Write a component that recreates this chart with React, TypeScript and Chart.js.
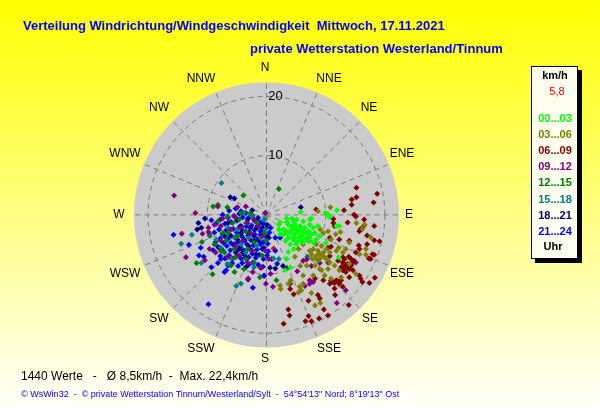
import React, { useEffect, useRef } from "react";
import { Chart, registerables } from "chart.js";

Chart.register(...registerables);

// Every point is [east, north] in km/h: the wind vector.
const hours00to03 = [[5.8,0.5],[11.9,0.8],[10,0.3],[10.4,0],[10.7,-0.4],[2.3,-1.3],[2.1,-1.7],[3.4,-0.6],[4.3,-0.6],[4.6,-1.1],[5.1,-0.8],[6.2,-1.1],[7.6,-0.6],[7.3,-0.8],[3.7,-1.7],[4.3,-1.9],[4.8,-1.7],[5.7,-1.9],[6.5,-2.2],[7.3,-1.7],[7.9,-2.2],[8.7,-1.9],[2.9,-2.5],[3.4,-2.8],[4,-3.1],[4.6,-2.5],[5.4,-2.8],[6.2,-3.1],[7.1,-2.8],[8.2,-3.1],[9,-3.6],[2.9,-3.3],[3.7,-3.9],[4.6,-3.6],[5.4,-3.9],[6.2,-3.9],[7.3,-3.9],[8.4,-4.2],[11.8,-1.9],[12.3,-1.9],[2.1,-2.5],[2.3,-3.3],[3.2,-4.4],[4,-5],[5.1,-5],[6.2,-4.7],[4.6,-5.8],[3.7,-6.3],[3.4,-7.5],[3.2,-9.4],[4,-8.9],[10,-4.8],[12.2,-7.2],[7.9,-4.7],[7.3,-4.4],[5.7,-4.4],[4.8,-4.4],[6.8,-3.3],[5,-2.2],[5.9,-2.4],[6.6,-2.9],[7.6,-3.3],[4.2,-2.4],[3.2,-3],[4.9,-3.2],[5.8,-3.5],[6.8,-4.1],[3.5,-1.2],[4.5,-4.1]];

const hours03to06 = [[10.8,1.3],[8.7,0.6],[16.6,-1.7],[15.2,-1.4],[16.2,-2.4],[10.4,-2.8],[9.1,-2.5],[9.6,-3.1],[12.5,-2.9],[11.7,-3.3],[10.9,-4.2],[17.6,-3.8],[14,-4.7],[12.2,-5.6],[16.8,-5.8],[16.8,-6.8],[15.7,-6.7],[13.4,-5.8],[12.9,-6.4],[11.8,-6.1],[10.1,-5.8],[9.3,-5.3],[8.4,-5],[7.9,-5.8],[7.6,-6.7],[8.4,-7],[9,-7.5],[9.8,-7.2],[10.7,-8.1],[11.5,-8.6],[10.4,-9.2],[9.3,-9.4],[8.2,-8.6],[6.8,-8.6],[5.7,-8.7],[6.2,-10.3],[7.9,-10.3],[9,-9.2],[9.8,-10.3],[10.9,-10.8],[12.6,-10.6],[15.1,-10],[6.2,-11.7],[5.6,-12.2],[5.9,-12.8],[5.4,-13.2],[2.3,-12],[2.4,-12.6],[4.1,-11.1],[3.7,-11.7],[7.6,-13.3],[8.2,-15.4],[9.1,-15],[4.8,-7.1],[5.4,-5.8],[6.2,-5],[7.1,-4.4],[7.3,-6.1],[8.7,-6.1],[9.6,-6.4],[10.7,-6.4],[12.3,-9.4],[14,-8.3],[8.2,-7.4],[8.7,-7.8],[9.4,-6.9],[8.9,-6.6],[10.2,-7.6],[7.7,-7.4]];

const hours06to09 = [[15.2,4.6],[18.7,3.6],[14.4,2.6],[15.2,3],[18.1,2.1],[14.4,1.7],[8.4,0.9],[13.1,0.8],[14.8,0],[15.1,-0.3],[11.3,-0.7],[11.3,-1.4],[13.7,-1.3],[16.5,-0.8],[18.2,-1.9],[15.9,-2.4],[16.5,-1.8],[15.7,-2.8],[11.5,-1.9],[10.7,-3.9],[17,-3.5],[18.2,-4.3],[19.1,-4.5],[17,-5],[15.6,-5.2],[15.7,-5.8],[14,-4.4],[12.3,-4.2],[10.9,-5.4],[10.4,-5.6],[17.9,-6.7],[18.2,-6.8],[17.6,-7.5],[17.3,-7.4],[15.1,-6.4],[13.9,-7.1],[13.2,-7.5],[12.9,-8.1],[13.7,-8.3],[14.3,-8.6],[12.6,-8.9],[13.2,-9.1],[14,-9.2],[12.9,-9.4],[13.4,-9.7],[14.6,-9.4],[15.7,-10.3],[15.9,-10.8],[16.2,-11.4],[18.3,-10.7],[17.4,-11.6],[14,-10.6],[12.6,-11.1],[11.8,-11.1],[11.2,-11.4],[10.7,-11.7],[12.3,-11.7],[11.5,-12.5],[12.9,-12.2],[11.6,-13.6],[8.7,-13.6],[9,-14.2],[7.1,-14.6],[13.9,-15.3],[9.7,-16.1],[10.4,-17.1],[7.1,-17.2],[7.6,-18.1],[6.6,-18.1],[8.9,-17.6],[3.7,-16.1],[3.9,-17.1],[2.9,-18.5],[4,-11.7],[4,-12.6],[4.6,-13.5],[8.2,-10.8],[9.6,-11.1],[12.1,-7.8],[12.9,-7.2],[13.6,-8.6],[10.7,-7],[14.3,-7.5],[14.8,-7.8],[13.8,-8.9],[13.1,-8.4],[14.5,-8.2],[12.2,-11.4],[11.5,-11.6],[10.9,-11.2]];

const hours09to12 = [[11.9,-15],[13.4,-12.8],[10.4,-8.1],[9,-8.2],[7.6,-8.7],[6.2,-7.8],[5.2,-9.6],[6.5,-12.1],[7.3,-11.7],[7.9,-11.4],[7.3,-11.1],[-0.1,-11.7],[1.1,-12.2],[0.7,-10],[-0.9,-9],[15.1,-8.1],[6.8,-7.6],[-15.6,3.3],[-12,0.3],[-14.3,-3.2],[-10.8,-3.2],[-13.6,-7.2],[-10.4,-7.7],[-2.3,-9.7],[-3.1,-10.8],[-9.8,-2.2],[-9.8,-2.9],[-8.8,-1.7],[-7.7,-1.9],[-8.2,1.4],[-4.9,1.3],[-3.5,1.4],[-0.2,0.3],[-0.7,-3.6],[-6,-2.5],[-4.3,-2.2],[-3.2,-1.4],[-2.1,-0.8],[-1.3,-2],[-7.7,-4.4],[-5.2,-5.3],[-8.6,-6.4],[-6.6,-7.2],[-3.2,-8.1],[-1,-9],[-2.4,-6.1],[-4,-4.4],[-9.6,-5.8],[-7.4,-0.6],[-5.4,-0.3],[-2.7,-3.1],[-4.6,-6.9],[-0.2,-6.1],[0.4,-7.5]];

const hours12to15 = [[2.1,4.4],[1.7,-11.1],[-3.9,3.3],[-10.9,-4.6],[-11.8,-8.2],[-9.1,-10.1],[-5.4,-9.7],[-1.1,-10.6],[-9,1.4],[-8.2,1.7],[-6.6,1.3],[-2.7,0.3],[-8.2,-1.1],[-6.6,-0.3],[-6.8,-4.4],[-8.8,-5],[-7.1,-6.4],[-5.2,-7.2],[-3.5,-7.5],[-2.1,-8.1],[-6.5,-3.1],[-4.9,-3.6],[-7.7,-6.1],[-0.7,-6.9],[-2.1,-4.7],[-3.5,-2.8],[-5.7,-1.4],[-1.6,-1.4],[-0.4,-3.1],[-9.6,-3.3],[-5.4,-5.8],[-6,-8.6],[-3.8,-9.2],[-4.3,0.3],[-7.4,-3.1],[-3.2,-5.8],[-4.6,-0.8],[-0.1,-4.4]];

const hours15to18 = [[-7.6,5.4],[-12.6,-3.4],[-14.4,-4.9],[-11,-8.2],[-5.1,-12.1],[-4.3,-11.7],[6.9,-7.1],[2.1,-7.5],[1.2,-7.4],[-3.8,0.3],[-0.4,-0.8],[-9.6,-3.6],[-8.5,-4.2],[-6.5,-2.2],[-4.9,-2.5],[-3,-3.9],[-6.6,-8.3],[-2.1,-8.9],[-6,-7.4],[-3.5,-6.4],[-1.6,-5.3],[-0.2,-2.5],[-4.3,-5],[-2.4,-0.3],[-0.3,-0.8],[-0.2,-3.1],[-5.4,-3.9],[-7.7,-5.6],[-1,-3.9],[-3.5,-1.4]];

const hours18to21 = [[-6.1,3],[-5.4,2.8],[-10.4,-0.6],[-11.5,-1.4],[-11,-2.2],[-11.7,-2.5],[-3.1,-11],[5.8,1.3],[2.8,-8.7],[3.4,-9.1],[0.6,-9],[1.5,-9.1],[-4.9,-0.8],[-3.2,-0.8],[-1.6,-0.8],[-6,-3.6],[-4.3,-3.1],[-2.7,-2.2],[-5.4,-5],[-3.8,-4.2],[-2.1,-3.6],[-0.7,-2.2],[-4.6,-5.8],[-3,-5.3],[-1.3,-4.4],[-5.2,-6.4],[-3.5,-7.2],[-1.8,-6.7],[-0.7,-5.8],[0.1,-1.7],[0.1,-3.6],[-6.5,-1.4],[-7.1,-3.6],[-8,-5.6],[-3.5,-8.9],[-4.3,-1.9],[-2.4,0.8],[-4.9,-4.2],[-4,-6.4],[-1.6,-2.2],[-2.9,-3.1],[-2.1,-4.4]];

const hours21to24 = [[-15.7,-3.4],[-13.1,-5.1],[-11.1,-5.6],[-11.4,-6.9],[-10.6,-7.1],[-9.3,-8.9],[-9.8,-15.2],[-2.3,-12.4],[-7.1,-9.7],[-6.8,-9.4],[-8.2,-8.2],[-7.7,-7.5],[-0.4,-10.4],[-9.3,-0.9],[-7.4,0],[-6.3,0.7],[-4.3,0.6],[-5.2,1.1],[0.7,-2.2],[1.5,-3.9],[2.3,-3.9],[0.1,-6.9],[0.9,-7.5],[1.8,-8.3],[-0.4,-10.3],[1.5,-6.1],[-0.4,-5.6],[0.4,-3.9],[-0.7,-2.5],[-8.5,-1.5],[-7.8,-0.8],[-7,-1.5],[-6.5,-0.5],[-6,-1.2],[-5.5,-0.2],[-5,-1],[-4.6,0.2],[-4,-0.4],[-3.5,0.3],[-3,-0.5],[-2.4,-0.1],[-2,-1],[-1.4,-0.5],[-1,-1.3],[-8.8,-3],[-8,-2.5],[-7.4,-3.3],[-6.8,-2.6],[-6.2,-3.4],[-5.6,-2.4],[-5,-3],[-4.5,-2],[-4,-2.7],[-3.4,-2],[-3,-2.9],[-2.5,-1.8],[-2,-2.6],[-1.5,-1.9],[-1,-2.8],[-0.5,-1.5],[0,-2.2],[-8.6,-4.6],[-7.8,-4],[-7.2,-4.8],[-6.5,-4.1],[-6,-4.8],[-5.3,-3.8],[-4.8,-4.6],[-4.2,-3.6],[-3.7,-4.4],[-3.1,-3.5],[-2.6,-4.3],[-2,-3.3],[-1.5,-4.1],[-1,-3.4],[-0.5,-4.6],[0,-3.8],[0.5,-3],[-9,-6],[-8.2,-5.4],[-7.4,-6],[-6.7,-5.3],[-6.1,-6],[-5.5,-5.2],[-5,-6],[-4.4,-5.4],[-3.9,-6],[-3.3,-5],[-2.8,-5.8],[-2.2,-5.2],[-1.6,-5.9],[-1,-5],[0.2,-4.9],[-7.8,-7],[-7,-7.4],[-6.3,-6.9],[-5.7,-7.4],[-5,-7],[-4.3,-7.4],[-3.7,-6.8],[-3,-7.2],[-2.4,-6.6],[-1.8,-7.3],[-1.2,-6.8],[-0.5,-7.5],[0.3,-6.2],[-6.5,-8.6],[-5.8,-8.2],[-4.8,-8.7],[-4.1,-8.2],[-3,-8.5],[-2.3,-8.1],[-1.4,-8.5],[-0.6,-8.8]];

const currentWind = [[1.2,-5.7]];

const hourLabels = ["00...03","03...06","06...09","09...12","12...15","15...18","18...21","21...24"];
const hourColors = ["#00ff00","#808000","#800000","#800080","#008000","#008080","#000080","#0000ff"];
const hourSeries = [hours00to03,hours03to06,hours06to09,hours09to12,hours12to15,hours15to18,hours18to21,hours21to24];

const directions = ["N","NNE","NE","ENE","E","ESE","SE","SSE","S","SSW","SW","WSW","W","WNW","NW","NNW"];
const ringValues = [10, 20];
const maxSpeed = 22.4;
const currentText = "5,8";

const titleLine1 = "Verteilung Windrichtung/Windgeschwindigkeit  Mittwoch, 17.11.2021";
const titleLine2 = "private Wetterstation Westerland/Tinnum";
const statsLine = "1440 Werte   -   Ø 8,5km/h  -  Max. 22,4km/h";
const creditLine = "© WsWin32  -  © private Wetterstation Tinnum/Westerland/Sylt  -  54°54'13\" Nord; 8°19'13\" Ost";

const labelOffsets: Record<string, [number, number]> = {
  N: [265, 68], NNE: [329, 79], NE: [369, 108], ENE: [402, 154], E: [409, 215], ESE: [402, 274], SE: [370, 319], SSE: [329, 349],
  S: [265, 359], SSW: [201, 349], SW: [159, 319], WSW: [125, 274], W: [119, 215], WNW: [125, 154], NW: [159, 108], NNW: [201, 79],
};

const windPlot = {
  id: "windPlot",
  beforeDraw(chart: any) {
    const { ctx, width, height } = chart;
    const g = ctx.createLinearGradient(0, 0, 0, height);
    g.addColorStop(0, "#ffff00");
    g.addColorStop(1, "#ffffff");
    ctx.save();
    ctx.fillStyle = g;
    ctx.fillRect(0, 0, width, height);
    ctx.restore();
  },
  beforeDatasetsDraw(chart: any) {
    const { ctx, scales } = chart;
    const cx = scales.x.getPixelForValue(0);
    const cy = scales.y.getPixelForValue(0);
    const unit = Math.abs(scales.x.getPixelForValue(1) - cx);
    ctx.save();
    ctx.fillStyle = "#cbcbcb";
    ctx.beginPath();
    ctx.arc(cx, cy, maxSpeed * unit, 0, Math.PI * 2);
    ctx.fill();

    ctx.strokeStyle = "#7c7c7c";
    ctx.lineWidth = 1;
    ctx.setLineDash([5, 4]);
    for (const r of ringValues) {
      ctx.beginPath();
      ctx.arc(cx, cy, r * unit, 0, Math.PI * 2);
      ctx.stroke();
    }
    directions.forEach((_, i) => {
      const a = (i * Math.PI) / 8;
      ctx.beginPath();
      ctx.moveTo(cx, cy);
      ctx.lineTo(cx + Math.sin(a) * maxSpeed * unit, cy - Math.cos(a) * maxSpeed * unit);
      ctx.stroke();
    });
    ctx.setLineDash([]);

    ctx.fillStyle = "#000";
    ctx.font = "12px 'Liberation Sans'";
    ctx.textAlign = "center";
    ctx.textBaseline = "middle";
    for (const d of directions) {
      const [x, y] = labelOffsets[d];
      ctx.fillText(d, x, y);
    }
    ctx.font = "13px 'Liberation Sans'";
    for (const r of ringValues) {
      ctx.fillText(String(r), cx + 9, scales.y.getPixelForValue(r) - 1);
    }

    ctx.textAlign = "left";
    ctx.fillStyle = "#0000ff";
    ctx.font = "bold 13px 'Liberation Sans'";
    ctx.fillText(titleLine1, 23, 26);
    ctx.fillText(titleLine2, 250, 49);

    ctx.fillStyle = "#000";
    ctx.font = "12px 'Liberation Sans'";
    ctx.fillText(statsLine, 21, 377);
    ctx.fillStyle = "#0000ff";
    ctx.font = "9px 'Liberation Sans'";
    ctx.fillText(creditLine, 21, 395);

    ctx.fillStyle = "#000";
    ctx.fillRect(535, 70, 47, 193);
    ctx.fillStyle = "#fffff0";
    ctx.fillRect(531, 66, 47, 193);
    ctx.strokeStyle = "#000";
    ctx.strokeRect(531.5, 66.5, 46, 192);
    ctx.textAlign = "center";
    ctx.font = "bold 11px 'Liberation Sans'";
    ctx.fillStyle = "#000";
    ctx.fillText("km/h", 555, 76);
    ctx.fillStyle = "#ff0000";
    ctx.font = "11px 'Liberation Sans'";
    ctx.fillText(currentText, 557, 92);
    ctx.font = "bold 11px 'Liberation Sans'";
    hourLabels.forEach((l, i) => {
      ctx.fillStyle = hourColors[i];
      ctx.fillText(l, 555, 119 + i * 16.1);
    });
    ctx.fillStyle = "#000";
    ctx.fillText("Uhr", 553, 247);
    ctx.restore();
  },
};

export default function App() {
  const ref = useRef<HTMLCanvasElement>(null);
  useEffect(() => {
    document.body.style.margin = "0";
    const toPoints = (s: number[][]) => s.map(([x, y]) => ({ x, y }));
    const marker = { pointStyle: "rectRot", pointRadius: 3, pointBorderWidth: 0, showLine: false };
    const datasets: any[] = hourSeries.map((s, i) => ({
      label: hourLabels[i],
      data: toPoints(s),
      backgroundColor: hourColors[i],
      pointBackgroundColor: hourColors[i],
      ...marker,
    }));
    datasets.push({
      label: "aktuell",
      data: toPoints(currentWind),
      backgroundColor: "#ff0000",
      pointBackgroundColor: "#ff0000",
      ...marker,
    });
    const chart = new Chart(ref.current!, {
      type: "scatter",
      data: { datasets },
      options: {
        animation: false,
        responsive: false,
        devicePixelRatio: 1,
        layout: { padding: 0 },
        plugins: { legend: { display: false }, tooltip: { enabled: false } },
        scales: {
          x: { type: "linear", display: false, min: -266 / 6, max: 334 / 6 },
          y: { type: "linear", display: false, min: -200 / 6, max: 215 / 6 },
        },
      },
      plugins: [windPlot],
    } as any);
    return () => chart.destroy();
  }, []);
  return <canvas ref={ref} width={600} height={415} style={{ display: "block" }} />;
}
